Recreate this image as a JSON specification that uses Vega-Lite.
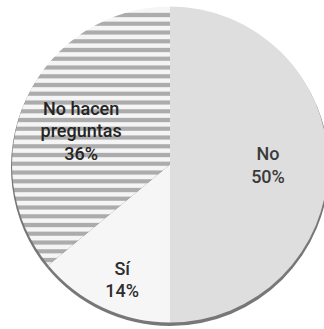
{
  "$schema": "https://vega.github.io/schema/vega-lite/v6.json",
  "width": 324,
  "height": 329,
  "autosize": {"type": "fit", "contains": "padding"},
  "padding": {"left": 16, "top": 0, "right": 0, "bottom": 0},
  "background": "#ffffff",
  "config": {"view": {"stroke": null}},
  "data": {
    "values": [
      {"respuesta": "No", "valor": 50, "orden": 1, "etiqueta": "No\n50%"},
      {"respuesta": "Sí", "valor": 14, "orden": 2, "etiqueta": "Sí\n14%"},
      {"respuesta": "No hacen preguntas", "valor": 36, "orden": 3, "etiqueta": "No hacen\npreguntas\n36%"}
    ]
  },
  "encoding": {
    "theta": {"field": "valor", "type": "quantitative", "stack": true},
    "order": {"field": "orden", "type": "quantitative"}
  },
  "layer": [
    {
      "mark": {"type": "arc", "outerRadius": 159, "yOffset": 2.5, "fill": "#4a4a4a", "opacity": 0.75, "stroke": null}
    },
    {
      "mark": {"type": "arc", "outerRadius": 158, "stroke": null},
      "encoding": {
        "fill": {
          "condition": [
            {
              "test": "datum.respuesta === 'No hacen preguntas'",
              "value": {
                "gradient": "linear",
                "x1": 0, "y1": 0, "x2": 0, "y2": 1,
                "stops": [
                  {"offset": 0, "color": "#f5f5f5"},
                  {"offset": 0.0224, "color": "#f5f5f5"}, {"offset": 0.0271, "color": "#acacac"}, {"offset": 0.0387, "color": "#acacac"}, {"offset": 0.0433, "color": "#f5f5f5"},
                  {"offset": 0.0562, "color": "#f5f5f5"}, {"offset": 0.0609, "color": "#acacac"}, {"offset": 0.0725, "color": "#acacac"}, {"offset": 0.0771, "color": "#f5f5f5"},
                  {"offset": 0.0901, "color": "#f5f5f5"}, {"offset": 0.0947, "color": "#acacac"}, {"offset": 0.1063, "color": "#acacac"}, {"offset": 0.1109, "color": "#f5f5f5"},
                  {"offset": 0.1239, "color": "#f5f5f5"}, {"offset": 0.1285, "color": "#acacac"}, {"offset": 0.1401, "color": "#acacac"}, {"offset": 0.1448, "color": "#f5f5f5"},
                  {"offset": 0.1577, "color": "#f5f5f5"}, {"offset": 0.1624, "color": "#acacac"}, {"offset": 0.1739, "color": "#acacac"}, {"offset": 0.1786, "color": "#f5f5f5"},
                  {"offset": 0.1915, "color": "#f5f5f5"}, {"offset": 0.1962, "color": "#acacac"}, {"offset": 0.2078, "color": "#acacac"}, {"offset": 0.2124, "color": "#f5f5f5"},
                  {"offset": 0.2254, "color": "#f5f5f5"}, {"offset": 0.2300, "color": "#acacac"}, {"offset": 0.2416, "color": "#acacac"}, {"offset": 0.2462, "color": "#f5f5f5"},
                  {"offset": 0.2592, "color": "#f5f5f5"}, {"offset": 0.2638, "color": "#acacac"}, {"offset": 0.2754, "color": "#acacac"}, {"offset": 0.2801, "color": "#f5f5f5"},
                  {"offset": 0.2930, "color": "#f5f5f5"}, {"offset": 0.2976, "color": "#acacac"}, {"offset": 0.3092, "color": "#acacac"}, {"offset": 0.3139, "color": "#f5f5f5"},
                  {"offset": 0.3268, "color": "#f5f5f5"}, {"offset": 0.3315, "color": "#acacac"}, {"offset": 0.3431, "color": "#acacac"}, {"offset": 0.3477, "color": "#f5f5f5"},
                  {"offset": 0.3607, "color": "#f5f5f5"}, {"offset": 0.3653, "color": "#acacac"}, {"offset": 0.3769, "color": "#acacac"}, {"offset": 0.3815, "color": "#f5f5f5"},
                  {"offset": 0.3945, "color": "#f5f5f5"}, {"offset": 0.3991, "color": "#acacac"}, {"offset": 0.4107, "color": "#acacac"}, {"offset": 0.4153, "color": "#f5f5f5"},
                  {"offset": 0.4283, "color": "#f5f5f5"}, {"offset": 0.4329, "color": "#acacac"}, {"offset": 0.4445, "color": "#acacac"}, {"offset": 0.4492, "color": "#f5f5f5"},
                  {"offset": 0.4621, "color": "#f5f5f5"}, {"offset": 0.4668, "color": "#acacac"}, {"offset": 0.4784, "color": "#acacac"}, {"offset": 0.4830, "color": "#f5f5f5"},
                  {"offset": 0.4959, "color": "#f5f5f5"}, {"offset": 0.5006, "color": "#acacac"}, {"offset": 0.5122, "color": "#acacac"}, {"offset": 0.5168, "color": "#f5f5f5"},
                  {"offset": 0.5298, "color": "#f5f5f5"}, {"offset": 0.5344, "color": "#acacac"}, {"offset": 0.5460, "color": "#acacac"}, {"offset": 0.5506, "color": "#f5f5f5"},
                  {"offset": 0.5636, "color": "#f5f5f5"}, {"offset": 0.5682, "color": "#acacac"}, {"offset": 0.5798, "color": "#acacac"}, {"offset": 0.5845, "color": "#f5f5f5"},
                  {"offset": 0.5974, "color": "#f5f5f5"}, {"offset": 0.6021, "color": "#acacac"}, {"offset": 0.6136, "color": "#acacac"}, {"offset": 0.6183, "color": "#f5f5f5"},
                  {"offset": 0.6312, "color": "#f5f5f5"}, {"offset": 0.6359, "color": "#acacac"}, {"offset": 0.6475, "color": "#acacac"}, {"offset": 0.6521, "color": "#f5f5f5"},
                  {"offset": 0.6651, "color": "#f5f5f5"}, {"offset": 0.6697, "color": "#acacac"}, {"offset": 0.6813, "color": "#acacac"}, {"offset": 0.6859, "color": "#f5f5f5"},
                  {"offset": 0.6989, "color": "#f5f5f5"}, {"offset": 0.7035, "color": "#acacac"}, {"offset": 0.7151, "color": "#acacac"}, {"offset": 0.7198, "color": "#f5f5f5"},
                  {"offset": 0.7327, "color": "#f5f5f5"}, {"offset": 0.7373, "color": "#acacac"}, {"offset": 0.7489, "color": "#acacac"}, {"offset": 0.7536, "color": "#f5f5f5"},
                  {"offset": 0.7665, "color": "#f5f5f5"}, {"offset": 0.7712, "color": "#acacac"}, {"offset": 0.7828, "color": "#acacac"}, {"offset": 0.7874, "color": "#f5f5f5"},
                  {"offset": 0.8004, "color": "#f5f5f5"}, {"offset": 0.8050, "color": "#acacac"}, {"offset": 0.8166, "color": "#acacac"}, {"offset": 0.8212, "color": "#f5f5f5"},
                  {"offset": 0.8342, "color": "#f5f5f5"}, {"offset": 0.8388, "color": "#acacac"}, {"offset": 0.8504, "color": "#acacac"}, {"offset": 0.8551, "color": "#f5f5f5"},
                  {"offset": 0.8680, "color": "#f5f5f5"}, {"offset": 0.8726, "color": "#acacac"}, {"offset": 0.8842, "color": "#acacac"}, {"offset": 0.8889, "color": "#f5f5f5"},
                  {"offset": 0.9018, "color": "#f5f5f5"}, {"offset": 0.9065, "color": "#acacac"}, {"offset": 0.9181, "color": "#acacac"}, {"offset": 0.9227, "color": "#f5f5f5"},
                  {"offset": 0.9356, "color": "#f5f5f5"}, {"offset": 0.9403, "color": "#acacac"}, {"offset": 0.9519, "color": "#acacac"}, {"offset": 0.9565, "color": "#f5f5f5"},
                  {"offset": 0.9695, "color": "#f5f5f5"}, {"offset": 0.9741, "color": "#acacac"}, {"offset": 0.9857, "color": "#acacac"}, {"offset": 0.9903, "color": "#f5f5f5"},
                  {"offset": 1, "color": "#f5f5f5"}
                ]
              }
            },
            {"test": "datum.respuesta === 'No'", "value": "#dedede"}
          ],
          "value": "#f6f6f6"
        }
      }
    },
    {
      "mark": {"type": "text", "radius": 96, "dx": -2, "dy": -14, "lineBreak": "\n", "lineHeight": 22.5, "font": "Roboto", "fontSize": 18, "fontWeight": 500, "fill": "#242424", "align": "center", "baseline": "middle"},
      "encoding": {
        "text": {"field": "etiqueta"},
        "opacity": {"condition": {"test": "datum.respuesta === 'No hacen preguntas'", "value": 1}, "value": 0}
      }
    },
    {
      "mark": {"type": "text", "radius": 98, "dy": -9.5, "lineBreak": "\n", "lineHeight": 23, "font": "Roboto", "fontSize": 18, "fontWeight": 500, "fill": "#3a3a3a", "align": "center", "baseline": "middle"},
      "encoding": {
        "text": {"field": "etiqueta"},
        "opacity": {"condition": {"test": "datum.respuesta === 'No'", "value": 1}, "value": 0}
      }
    },
    {
      "mark": {"type": "text", "radius": 124, "dx": 5, "dy": -7, "lineBreak": "\n", "lineHeight": 22.5, "font": "Roboto", "fontSize": 18, "fontWeight": 500, "fill": "#2e2e2e", "align": "center", "baseline": "middle"},
      "encoding": {
        "text": {"field": "etiqueta"},
        "opacity": {"condition": {"test": "datum.respuesta === 'Sí'", "value": 1}, "value": 0}
      }
    }
  ]
}
